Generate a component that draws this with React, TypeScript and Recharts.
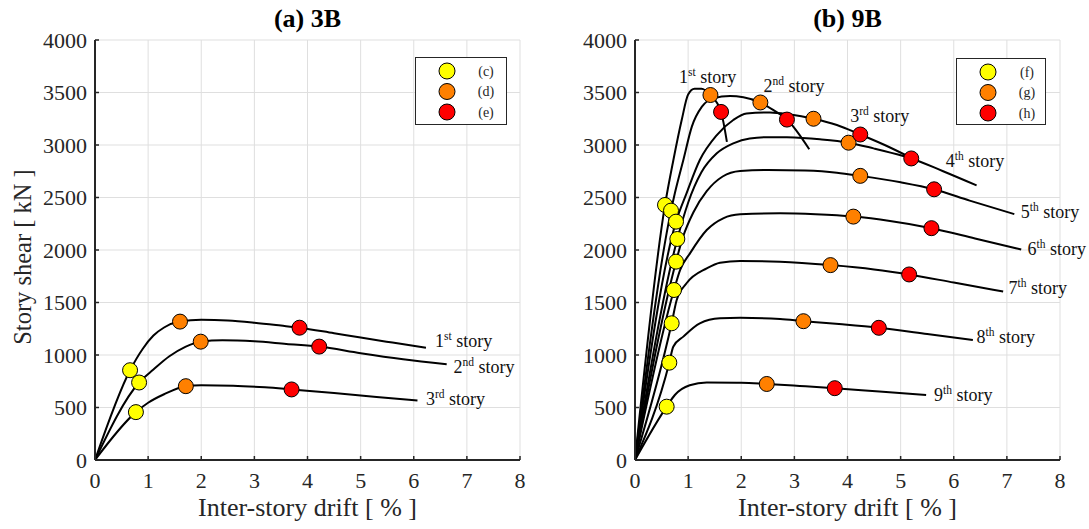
import React from "react";
import {
  ComposedChart,
  Line,
  Scatter,
  XAxis,
  YAxis,
  CartesianGrid,
  Legend,
  ReferenceDot,
} from "recharts";

type Pt = { x: number; y: number };
const toPts = (arr: number[][]): Pt[] => arr.map(([x, y]) => ({ x, y }));

const FONT = "Liberation Serif, Times New Roman, serif";
const INK = "#262626";

const xTicks = [0, 1, 2, 3, 4, 5, 6, 7, 8];
const yTicks = [0, 500, 1000, 1500, 2000, 2500, 3000, 3500, 4000];

// ---- (a) 3B : story shear vs drift ----
const story1_3B = [[0, 0], [0.66, 855], [0.9, 1060], [1.1, 1185], [1.3, 1262], [1.6, 1318], [2.0, 1335], [2.5, 1328], [3.0, 1307], [3.5, 1280], [3.85, 1260], [4.5, 1207], [5.0, 1166], [5.6, 1118], [6.23, 1068]];
const story2_3B = [[0, 0], [0.83, 738], [1.1, 862], [1.4, 988], [1.7, 1078], [1.99, 1127], [2.4, 1140], [3.0, 1130], [3.6, 1105], [4.22, 1080], [5.0, 1017], [5.8, 960], [6.62, 913]];
const story3_3B = [[0, 0], [0.77, 456], [1.0, 545], [1.3, 626], [1.71, 703], [2.0, 712], [2.6, 708], [3.2, 692], [3.7, 672], [4.5, 638], [5.3, 601], [6.07, 567]];

const pointC = [[0.66, 855], [0.83, 738], [0.77, 456]];
const pointD = [[1.6, 1318], [1.99, 1127], [1.71, 703]];
const pointE = [[3.85, 1260], [4.22, 1080], [3.7, 672]];

const labels3B = [
  { x: 6.4, y: 1073, n: "1", sup: "st" },
  { x: 6.75, y: 826, n: "2", sup: "nd" },
  { x: 6.23, y: 521, n: "3", sup: "rd" },
];

// ---- (b) 9B ----
const story1_9B = [[0, 0], [0.565, 2429], [0.72, 2850], [0.88, 3240], [1.0, 3480], [1.12, 3535], [1.25, 3535], [1.42, 3476], [1.62, 3315], [1.73, 3030]];
const story2_9B = [[0, 0], [0.678, 2375], [0.75, 2540], [0.91, 2857], [1.07, 3175], [1.26, 3365], [1.47, 3444], [1.79, 3467], [2.04, 3454], [2.36, 3405], [2.6, 3335], [2.86, 3242], [3.28, 2959]];
const story3_9B = [[0, 0], [0.772, 2270], [0.97, 2540], [1.22, 2857], [1.54, 3095], [1.85, 3238], [2.1, 3300], [2.54, 3310], [2.9, 3292], [3.36, 3250], [3.8, 3190], [4.24, 3100], [4.7, 3000], [5.15, 2890]];
const story4_9B = [[0, 0], [0.797, 2105], [1.0, 2450], [1.25, 2740], [1.54, 2921], [1.85, 3016], [2.16, 3063], [2.5, 3075], [2.86, 3073], [3.48, 3054], [4.02, 3022], [4.49, 2968], [5.05, 2895], [5.2, 2872], [5.8, 2750], [6.43, 2615]];
const story5_9B = [[0, 0], [0.772, 1889], [0.9, 2120], [1.1, 2360], [1.35, 2560], [1.65, 2700], [1.98, 2752], [2.5, 2762], [3.2, 2756], [3.8, 2736], [4.24, 2706], [5.0, 2645], [5.63, 2578], [6.3, 2470], [7.14, 2342]];
const story6_9B = [[0, 0], [0.734, 1619], [0.85, 1810], [1.035, 1968], [1.35, 2190], [1.66, 2302], [1.98, 2340], [2.73, 2349], [3.4, 2340], [4.11, 2318], [4.8, 2276], [5.58, 2208], [6.4, 2110], [7.27, 2005]];
const story7_9B = [[0, 0], [0.69, 1302], [0.785, 1524], [0.97, 1683], [1.35, 1825], [1.6, 1879], [1.98, 1895], [2.73, 1888], [3.68, 1856], [4.5, 1815], [5.16, 1767], [6.0, 1690], [6.93, 1604]];
const story8_9B = [[0, 0], [0.646, 927], [0.72, 1079], [0.91, 1175], [1.22, 1302], [1.6, 1349], [1.98, 1354], [2.73, 1343], [3.17, 1322], [3.9, 1292], [4.59, 1259], [5.5, 1200], [6.36, 1142]];
const story9_9B = [[0, 0], [0.596, 508], [0.75, 619], [1.03, 712], [1.35, 738], [2.0, 736], [2.48, 724], [3.1, 705], [3.76, 684], [4.6, 652], [5.48, 620]];

const pointF = [[0.565, 2429], [0.678, 2375], [0.772, 2270], [0.797, 2105], [0.772, 1889], [0.734, 1619], [0.69, 1302], [0.646, 927], [0.596, 508]];
const pointG = [[1.42, 3476], [2.36, 3405], [3.36, 3250], [4.02, 3022], [4.24, 2706], [4.11, 2318], [3.68, 1856], [3.17, 1322], [2.48, 724]];
const pointH = [[1.62, 3315], [2.86, 3242], [4.24, 3100], [5.2, 2872], [5.63, 2578], [5.58, 2208], [5.16, 1767], [4.59, 1259], [3.76, 684]];

const labels9B = [
  { x: 0.83, y: 3588, n: "1", sup: "st" },
  { x: 2.42, y: 3508, n: "2", sup: "nd" },
  { x: 4.05, y: 3216, n: "3", sup: "rd" },
  { x: 5.85, y: 2793, n: "4", sup: "th" },
  { x: 7.26, y: 2308, n: "5", sup: "th" },
  { x: 7.39, y: 1952, n: "6", sup: "th" },
  { x: 7.03, y: 1581, n: "7", sup: "th" },
  { x: 6.43, y: 1111, n: "8", sup: "th" },
  { x: 5.63, y: 565, n: "9", sup: "th" },
];

const markerColors = ["#ffff00", "#ff8000", "#ff0000"];

type Label = { x: number; y: number; n: string; sup: string };

type PanelProps = {
  width: number;
  margin: { top: number; right: number; bottom: number; left: number };
  title: string;
  curves: number[][][];
  markers: number[][][];
  names: string[];
  labels: Label[];
  legendBox: { left: number; top: number; width: number; height: number };
  yLabel?: boolean;
};

const HEIGHT = 529;
const Y_AXIS_W = 60;
const X_AXIS_H = 40;

const tickStyle = { fill: INK, fontFamily: FONT, fontSize: 22 };

function Marker(props: any) {
  const { cx, cy, fill } = props;
  if (cx == null || cy == null) return null;
  return <circle cx={cx} cy={cy} r={7.5} fill={fill} stroke="#000" strokeWidth={1} />;
}

function Panel(props: PanelProps) {
  const { width, margin, title, curves, markers, names, labels, legendBox, yLabel } = props;
  const plotLeft = margin.left + Y_AXIS_W;
  const plotRight = width - margin.right;
  const cx = (plotLeft + plotRight) / 2;

  const legendContent = (lp: any) => {
    const items = (lp.payload || []).filter((e: any) => e.type !== "none");
    return (
      <svg width={legendBox.width} height={legendBox.height} style={{ display: "block", fontFamily: FONT }}>
        <rect x={0.5} y={0.5} width={legendBox.width - 1} height={legendBox.height - 1} fill="#fff" stroke={INK} strokeWidth={1} />
        {items.map((e: any, i: number) => (
          <g key={e.value}>
            <circle cx={32} cy={14 + i * 20.5} r={8} fill={e.color} stroke="#000" strokeWidth={1} />
            <text x={71} y={18.5 + i * 20.5} textAnchor="middle" fontSize={14} fill={INK}>
              {e.value}
            </text>
          </g>
        ))}
      </svg>
    );
  };

  return (
    <ComposedChart width={width} height={HEIGHT} margin={margin} style={{ fontFamily: FONT }}>
      <CartesianGrid stroke="#dfdfdf" strokeWidth={1} />
      <XAxis
        dataKey="x"
        type="number"
        domain={[0, 8]}
        ticks={xTicks}
        allowDataOverflow
        height={X_AXIS_H}
        tickSize={-4}
        tickMargin={16}
        axisLine={{ stroke: INK, strokeWidth: 2 }}
        tickLine={{ stroke: INK, strokeWidth: 1.5 }}
        tick={tickStyle}
      />
      <YAxis
        type="number"
        domain={[0, 4000]}
        ticks={yTicks}
        allowDataOverflow
        width={Y_AXIS_W}
        tickSize={-4}
        tickMargin={12}
        axisLine={{ stroke: INK, strokeWidth: 2 }}
        tickLine={{ stroke: INK, strokeWidth: 1.5 }}
        tick={tickStyle}
      />
      {curves.map((c, i) => (
        <Line
          key={"c" + i}
          data={toPts(c)}
          dataKey="y"
          type="monotone"
          stroke="#000"
          strokeWidth={2}
          dot={false}
          activeDot={false}
          legendType="none"
          isAnimationActive={false}
        />
      ))}
      {markers.map((m, i) => (
        <Scatter
          key={names[i]}
          name={names[i]}
          data={toPts(m)}
          dataKey="y"
          fill={markerColors[i]}
          shape={<Marker fill={markerColors[i]} />}
          isAnimationActive={false}
        />
      ))}
      {labels.map((l) => (
        <ReferenceDot
          key={l.n}
          x={l.x}
          y={l.y}
          r={0}
          ifOverflow="visible"
          shape={(p: any) => (
            <text x={p.cx} y={p.cy} fontFamily={FONT} fontSize={18} fill="#111">
              {l.n}
              <tspan fontSize={11.5} dy={-7}>{l.sup}</tspan>
              <tspan dy={7}>{"\u00a0story"}</tspan>
            </text>
          )}
        />
      ))}
      <Legend
        layout="vertical"
        align="center"
        verticalAlign="middle"
        content={legendContent}
        wrapperStyle={{ left: legendBox.left, top: legendBox.top, width: legendBox.width, height: legendBox.height }}
      />
      <text x={cx} y={27} textAnchor="middle" fontFamily={FONT} fontWeight="bold" fontSize={26} fill="#000">
        {title}
      </text>
      <text x={cx} y={516} textAnchor="middle" fontFamily={FONT} fontSize={26} fill={INK}>
        Inter-story drift [ % ]
      </text>
      {yLabel && (
        <text x={31} y={257} textAnchor="middle" fontFamily={FONT} fontSize={24.5} fill={INK} transform="rotate(-90 31 257)">
          Story shear [ kN ]
        </text>
      )}
    </ComposedChart>
  );
}

export default function App() {
  return (
    <div style={{ position: "absolute", left: 0, top: 0, width: 1089, height: HEIGHT, display: "flex", background: "#fff", fontFamily: FONT }}>
      <Panel
        width={545}
        margin={{ top: 40, right: 25, bottom: HEIGHT - 460 - X_AXIS_H, left: 35 }}
        title="(a) 3B"
        curves={[story1_3B, story2_3B, story3_3B]}
        markers={[pointC, pointD, pointE]}
        names={["(c)", "(d)", "(e)"]}
        labels={labels3B}
        legendBox={{ left: 415, top: 57, width: 92, height: 68 }}
        yLabel
      />
      <Panel
        width={544}
        margin={{ top: 40, right: 29, bottom: HEIGHT - 460 - X_AXIS_H, left: 30 }}
        title="(b) 9B"
        curves={[story1_9B, story2_9B, story3_9B, story4_9B, story5_9B, story6_9B, story7_9B, story8_9B, story9_9B]}
        markers={[pointF, pointG, pointH]}
        names={["(f)", "(g)", "(h)"]}
        labels={labels9B}
        legendBox={{ left: 411, top: 58, width: 90, height: 67 }}
      />
    </div>
  );
}
